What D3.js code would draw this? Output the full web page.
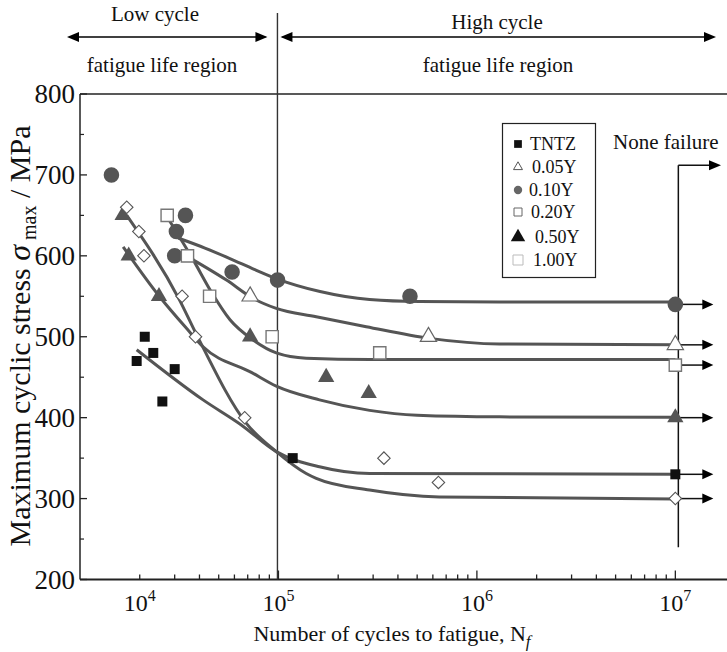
<!DOCTYPE html>
<html><head><meta charset="utf-8">
<script src="https://cdn.jsdelivr.net/npm/d3@7"></script>
<style>
body{margin:0;background:#fff;}
text{font-family:"Liberation Serif","Times New Roman",serif;fill:#111;}
</style></head>
<body><svg id="c" width="727" height="652"></svg>
<script>
// ---------- data ----------
const seriesNames = ["TNTZ","0.05Y","0.10Y","0.20Y","0.50Y","1.00Y"];

const tntzN = [1.93e4, 2.12e4, 2.34e4, 2.6e4, 3.0e4, 1.18e5, 1e7];
const tntzS = [470, 500, 480, 420, 460, 350, 330];
const y005N = [7.2e4, 5.7e5, 1e7];
const y005S = [550, 500, 490];
const y010N = [1.44e4, 3.0e4, 3.06e4, 3.4e4, 5.84e4, 9.9e4, 4.6e5, 1e7];
const y010S = [700, 600, 630, 650, 580, 570, 550, 540];
const y020N = [2.75e4, 3.48e4, 4.5e4, 9.3e4, 3.24e5, 1e7];
const y020S = [650, 600, 550, 500, 480, 465];
const y050N = [1.64e4, 1.76e4, 2.5e4, 7.2e4, 1.74e5, 2.85e5, 1e7];
const y050S = [650, 600, 550, 500, 450, 430, 400];
const y100N = [1.72e4, 1.98e4, 2.1e4, 3.27e4, 3.82e4, 6.76e4, 3.4e5, 6.4e5, 1e7];
const y100S = [660, 630, 600, 550, 500, 400, 350, 320, 300];

// fitted trend curves
const fitTNTZN = [1.93e4, 4.17e4, 6.5e4, 9.75e4, 1.61e5, 2.88e5, 1e7];
const fitTNTZS = [484, 422, 391, 358, 339.3, 331, 330];
const fit005N = [3.48e4, 5.47e4, 7.5e4, 9.75e4, 1.55e5, 2.77e5, 5.77e5, 1.3e6, 1e7];
const fit005S = [599, 570, 547, 535, 524.7, 512.4, 498, 491, 490];
const fit010N = [3.12e4, 4.26e4, 5.69e4, 7.6e4, 9.9e4, 1.62e5, 2.88e5, 5.13e5, 1.3e6, 1e7];
const fit010S = [622, 609.6, 596.7, 583, 571.3, 555.9, 546, 543.5, 543, 543];
const fit020N = [2.75e4, 3.72e4, 4.6e4, 5.7e4, 7.45e4, 9.75e4, 1.38e5, 2.9e5, 1e7];
const fit020S = [648, 595, 555, 521, 496, 480, 473.5, 472, 472];
const fit050N = [1.65e4, 2.52e4, 3.44e4, 4.17e4, 7.3e4, 9.75e4, 1.61e5, 2.88e5, 5e5, 1.3e6, 1e7];
const fit050S = [611, 549.4, 510.4, 487.6, 456, 439, 422, 409, 403, 401, 400.5];
const fit100N = [1.72e4, 3.18e4, 3.86e4, 6.89e4, 9.75e4, 1.38e5, 1.55e5, 2.88e5, 6.46e5, 1e7];
const fit100S = [650, 545, 503, 393, 358, 331, 325, 310.5, 302, 299.5];

const yTicks = [200, 300, 400, 500, 600, 700, 800];
const yMinorTicks = [250, 350, 450, 550, 650, 750];
const xLabelValues = [2e4, 1e5, 1e6, 1e7];
const xLabelExps = ["4", "5", "6", "7"];
const xDomain = [1e4, 1.8e7];
const yDomain = [200, 800];
const boundaryN = 1e5;   // low / high cycle boundary
const runoutN = 1e7;     // none failure limit

// ---------- layout ----------
const svg = d3.select("#c");
const L = 80, R = 726, T = 94, B = 579.5;
const x = d3.scaleLog().domain(xDomain).range([L, R]);
const y = d3.scaleLinear().domain(yDomain).range([B, T]);
const curveColor = "#555";

function zip(a, b){ return a.map((v,i)=>({n:v, s:b[i]})); }

const series = [
  {name:seriesNames[0], pts:zip(tntzN,tntzS), fit:zip(fitTNTZN,fitTNTZS)},
  {name:seriesNames[1], pts:zip(y005N,y005S), fit:zip(fit005N,fit005S)},
  {name:seriesNames[2], pts:zip(y010N,y010S), fit:zip(fit010N,fit010S)},
  {name:seriesNames[3], pts:zip(y020N,y020S), fit:zip(fit020N,fit020S)},
  {name:seriesNames[4], pts:zip(y050N,y050S), fit:zip(fit050N,fit050S)},
  {name:seriesNames[5], pts:zip(y100N,y100S), fit:zip(fit100N,fit100S)}
];

const style = {
  "TNTZ":  {type:d3.symbolSquare,   size:100, fill:"#111", stroke:"none", sw:0, rot:0},
  "0.05Y": {type:d3.symbolTriangle, size:115, fill:"#fff", stroke:"#666", sw:1.2, rot:0},
  "0.10Y": {type:d3.symbolCircle,   size:190, fill:"#555", stroke:"none", sw:0, rot:0},
  "0.20Y": {type:d3.symbolSquare,   size:150, fill:"#fff", stroke:"#777", sw:1.4, rot:0},
  "0.50Y": {type:d3.symbolTriangle, size:115, fill:"#555", stroke:"none", sw:0, rot:0},
  "1.00Y": {type:d3.symbolSquare,   size:78,  fill:"#fff", stroke:"#555", sw:1.1, rot:45}
};

function arrowHead(g, tx, ty, dir, len, hw){
  g.append("path")
    .attr("d", `M${tx},${ty} L${tx - dir*len},${ty - hw} L${tx - dir*len},${ty + hw} Z`)
    .attr("fill", "#000");
}

// ---------- axes ----------
const ax = svg.append("g");
ax.append("line").attr("x1",L).attr("x2",R+1).attr("y1",T).attr("y2",T).attr("stroke","#222").attr("stroke-width",1.5);
ax.append("line").attr("x1",L).attr("x2",L).attr("y1",T).attr("y2",B).attr("stroke","#222").attr("stroke-width",1.5);
ax.append("line").attr("x1",L).attr("x2",R+1).attr("y1",B).attr("y2",B).attr("stroke","#222").attr("stroke-width",2);

yTicks.forEach(v=>{
  ax.append("line").attr("x1",L).attr("x2",L+7).attr("y1",y(v)).attr("y2",y(v)).attr("stroke","#222").attr("stroke-width",1.3);
  ax.append("text").attr("x",L-5).attr("y",y(v)).attr("dy","0.35em").attr("text-anchor","end")
    .attr("font-size",27).text(v);
});
yMinorTicks.forEach(v=>{
  ax.append("line").attr("x1",L).attr("x2",L+4).attr("y1",y(v)).attr("y2",y(v)).attr("stroke","#222").attr("stroke-width",1.2);
});

const xt = x.ticks().filter(v=>v>xDomain[0] && v<xDomain[1]);
xt.forEach(v=>{
  const major = Math.abs(Math.log10(v) - Math.round(Math.log10(v))) < 1e-9;
  ax.append("line").attr("x1",x(v)).attr("x2",x(v)).attr("y1",B).attr("y2",B-(major?9:5))
    .attr("stroke","#222").attr("stroke-width",1.3);
});
xLabelValues.forEach((v,i)=>{
  const t = ax.append("text").attr("x",x(v)).attr("y",B+31).attr("text-anchor","middle").attr("font-size",24);
  t.append("tspan").text("10");
  t.append("tspan").attr("dy",-10).attr("font-size",16).text(xLabelExps[i]);
});

// axis titles
const xtitle = svg.append("text").attr("x",392).attr("y",641).attr("text-anchor","middle").attr("font-size",22);
xtitle.append("tspan").text("Number of cycles to fatigue, N");
xtitle.append("tspan").attr("dy",6).attr("font-size",17).attr("font-style","italic").text("f");

const ytitle = svg.append("text").attr("transform","translate(30,336) rotate(-90)").attr("text-anchor","middle").attr("font-size",30);
ytitle.append("tspan").text("Maximum cyclic stress ");
ytitle.append("tspan").attr("font-style","italic").attr("font-size",32).text("σ");
ytitle.append("tspan").attr("dy",6).attr("font-size",20).text(" max");
ytitle.append("tspan").attr("dy",-6).text(" / MPa");

// ---------- region annotation ----------
const ann = svg.append("g");
const xb = x(boundaryN) - 1;
ann.append("line").attr("x1",xb).attr("x2",xb).attr("y1",13).attr("y2",B).attr("stroke","#333").attr("stroke-width",1.4);
const ay = 37;
ann.append("line").attr("x1",70).attr("x2",xb-12).attr("y1",ay).attr("y2",ay).attr("stroke","#000").attr("stroke-width",1.5);
arrowHead(ann, 67, ay, -1, 12, 5);
arrowHead(ann, xb-10, ay, 1, 12, 5);
ann.append("line").attr("x1",xb+5).attr("x2",713).attr("y1",ay).attr("y2",ay).attr("stroke","#000").attr("stroke-width",1.5);
arrowHead(ann, xb+3, ay, -1, 12, 5);
arrowHead(ann, 716, ay, 1, 12, 5);
ann.append("text").attr("x",155).attr("y",21).attr("text-anchor","middle").attr("font-size",21).text("Low cycle");
ann.append("text").attr("x",162).attr("y",72).attr("text-anchor","middle").attr("font-size",21).text("fatigue life region");
ann.append("text").attr("x",497).attr("y",29).attr("text-anchor","middle").attr("font-size",21).text("High cycle");
ann.append("text").attr("x",498).attr("y",72).attr("text-anchor","middle").attr("font-size",21).text("fatigue life region");

// ---------- fitted curves ----------
const line = d3.line().x(d=>x(d.n)).y(d=>y(d.s)).curve(d3.curveMonotoneX);
svg.append("g").selectAll("path").data(series).join("path")
  .attr("d", d=>line(d.fit)).attr("fill","none").attr("stroke",curveColor).attr("stroke-width",3);

// ---------- run-out line and arrows ----------
const xr = x(runoutN);
const ro = svg.append("g");
ro.append("line").attr("x1",xr+3).attr("x2",xr+3).attr("y1",y(712)).attr("y2",y(240)).attr("stroke","#111").attr("stroke-width",1.5);
ro.append("line").attr("x1",xr+3).attr("x2",712).attr("y1",y(712)).attr("y2",y(712)).attr("stroke","#111").attr("stroke-width",1.5);
arrowHead(ro, 721, y(712), 1, 12, 5);
ro.append("text").attr("x",613).attr("y",149).attr("font-size",21).text("None failure");
series.forEach(s=>{
  const last = s.pts[s.pts.length-1];
  const yy = y(last.s);
  ro.append("line").attr("x1",xr).attr("x2",xr+28).attr("y1",yy).attr("y2",yy).attr("stroke","#111").attr("stroke-width",1.5);
  arrowHead(ro, xr+38, yy, 1, 11, 5);
});

// ---------- markers ----------
const mk = svg.append("g");
series.forEach(s=>{
  const st = style[s.name];
  mk.append("g").selectAll("path").data(s.pts).join("path")
    .attr("d", d3.symbol().type(st.type).size(st.size))
    .attr("transform", d=>`translate(${x(d.n)},${y(d.s)}) rotate(${st.rot})`)
    .attr("fill", st.fill).attr("stroke", st.stroke).attr("stroke-width", st.sw);
});

// ---------- legend ----------
const lg = svg.append("g");
lg.append("rect").attr("x",502.5).attr("y",123.5).attr("width",93).attr("height",154)
  .attr("fill","#fff").attr("stroke","#222").attr("stroke-width",1.2);
const legStyle = {
  "TNTZ":  {type:d3.symbolSquare,   size:60,  fill:"#111", stroke:"none", sw:0},
  "0.05Y": {type:d3.symbolTriangle, size:35,  fill:"#fff", stroke:"#555", sw:1},
  "0.10Y": {type:d3.symbolCircle,   size:55,  fill:"#666", stroke:"none", sw:0},
  "0.20Y": {type:d3.symbolSquare,   size:64,  fill:"#fff", stroke:"#666", sw:1},
  "0.50Y": {type:d3.symbolTriangle, size:90,  fill:"#111", stroke:"none", sw:0},
  "1.00Y": {type:d3.symbolSquare,   size:100, fill:"#fff", stroke:"#bbb", sw:1}
};
const legY = [144, 167, 190, 212, 237, 260];
const legTX = [530, 532, 529, 531, 535, 533];
seriesNames.forEach((nm,i)=>{
  const st = legStyle[nm];
  lg.append("path").attr("d", d3.symbol().type(st.type).size(st.size)())
    .attr("transform",`translate(518,${legY[i]})`)
    .attr("fill",st.fill).attr("stroke",st.stroke).attr("stroke-width",st.sw);
  lg.append("text").attr("x",legTX[i]).attr("y",legY[i]).attr("dy","0.35em").attr("font-size",18).text(nm);
});
</script></body></html>
